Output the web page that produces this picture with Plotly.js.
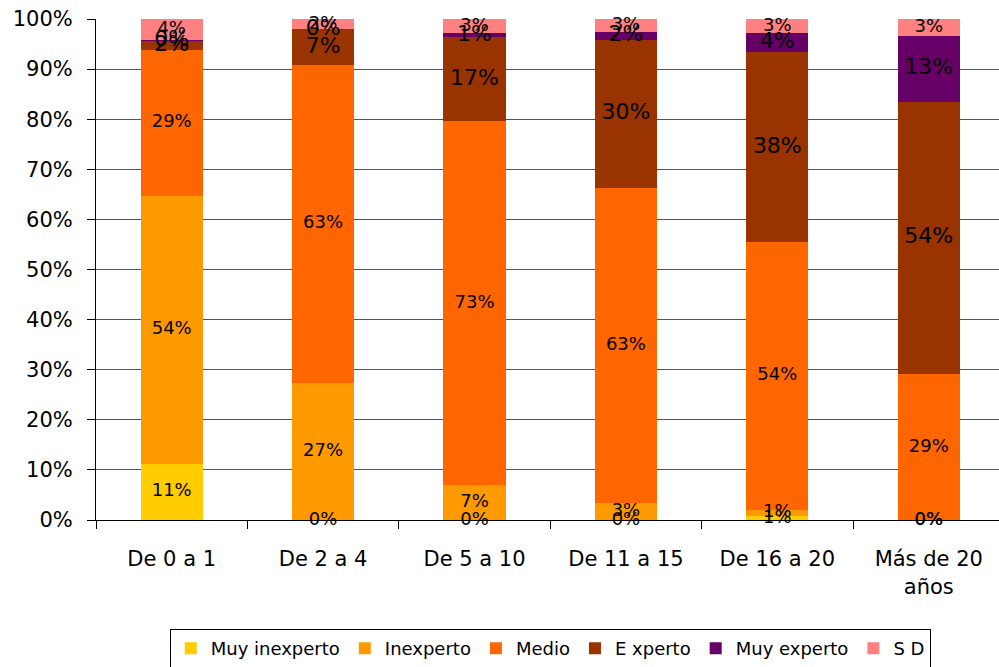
<!DOCTYPE html>
<html>
<head>
<meta charset="utf-8">
<script src="https://cdn.plot.ly/plotly-3.0.1.min.js"></script>
<style>html,body{margin:0;padding:0;background:#fff;}#chart{width:999px;height:667px;}</style>
</head>
<body>
<div id="chart"></div>
<script>
// Categories (years of experience)
var categories = ["De 0 a 1", "De 2 a 4", "De 5 a 10", "De 11 a 15", "De 16 a 20", "Más de 20<br>años"];
// Series values (percent of each bar)
var muyInexperto = [11.2, 0.0, 0.0, 0.0, 0.8, 0.0];
var inexperto    = [53.5, 27.4, 7.0, 3.4, 1.2, 0.0];
var medio        = [29.2, 63.4, 72.6, 62.9, 53.5, 29.1];
var experto      = [1.7, 7.2, 16.8, 29.5, 37.9, 54.4];
var muyExperto   = [0.2, 0.0, 0.8, 1.7, 3.8, 13.2];
var sd           = [4.2, 2.0, 2.8, 2.5, 2.8, 3.3];
var seriesNames  = ["Muy inexperto", "Inexperto", "Medio", "E xperto", "Muy experto", "S D"];
var yTickVals    = [0, 10, 20, 30, 40, 50, 60, 70, 80, 90, 100];
var yTickText    = ["0%", "10%", "20%", "30%", "40%", "50%", "60%", "70%", "80%", "90%", "100%"];

var seriesData = [muyInexperto, inexperto, medio, experto, muyExperto, sd];
var colors = ["#FFCC00", "#FF9900", "#FF6600", "#993300", "#660066", "#FF8080"];
var labelSizes = [18, 18, 18, 22, 22, 18];
var FONT = "DejaVu Sans, Noto Sans, sans-serif";

var traces = [];
seriesData.forEach(function (vals, i) {
  traces.push({
    type: "bar", name: seriesNames[i], x: categories, y: vals,
    width: 0.41, marker: {color: colors[i], line: {width: 0}},
    hoverinfo: "skip", textposition: "none"
  });
});
// labels at segment midpoints, computed from cumulative data
var cum = categories.map(function () { return 0; });
seriesData.forEach(function (vals, i) {
  var mids = vals.map(function (v, j) { var m = cum[j] + v / 2; cum[j] += v; return m; });
  traces.push({
    type: "scatter", mode: "text", x: categories, y: mids,
    text: vals.map(function (v) { return Math.round(v) + "%"; }),
    textposition: "middle center",
    textfont: {family: FONT, size: labelSizes[i], color: "#000"},
    showlegend: false, hoverinfo: "skip", cliponaxis: false
  });
});

var layout = {
  width: 999, height: 667,
  margin: {l: 96, r: 0, t: 19, b: 147, autoexpand: false},
  paper_bgcolor: "#fff", plot_bgcolor: "#fff",
  barmode: "stack",
  font: {family: FONT, color: "#000", size: 20},
  showlegend: true,
  legend: {
    orientation: "h", traceorder: "normal",
    x: 0.503, xanchor: "center", y: -0.2954, yanchor: "bottom",
    bordercolor: "#000", borderwidth: 1,
    itemwidth: 30, tracegroupgap: 0,
    font: {family: FONT, size: 18, color: "#000"}
  },
  xaxis: {
    type: "category", range: [-0.5, 5.464],
    showline: true, linecolor: "#000", linewidth: 1,
    ticks: "outside", tickson: "boundaries", ticklen: 8, tickcolor: "#000",
    ticklabelstandoff: 20,
    tickfont: {family: FONT, size: 21, color: "#000"},
    showgrid: false, zeroline: false, fixedrange: true, automargin: false
  },
  yaxis: {
    range: [0, 100], tickvals: yTickVals, ticktext: yTickText,
    showline: true, linecolor: "#000", linewidth: 1,
    ticks: "outside", ticklen: 8, tickcolor: "#000",
    ticklabelstandoff: 10,
    tickfont: {family: FONT, size: 21, color: "#000"},
    showgrid: true, gridcolor: "#555", gridwidth: 1,
    zeroline: false, fixedrange: true, automargin: false
  }
};

Plotly.newPlot("chart", traces, layout, {displayModeBar: false, staticPlot: true});
</script>
</body>
</html>
